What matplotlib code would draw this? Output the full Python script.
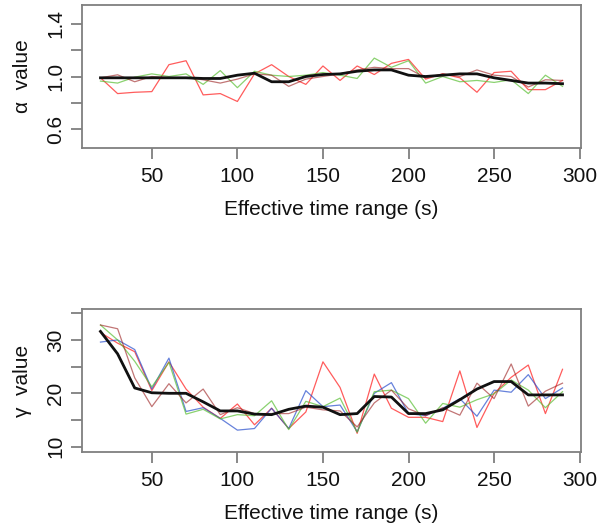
import numpy as np
import matplotlib
matplotlib.use("Agg")
import matplotlib.pyplot as plt

plt.rcParams['font.family'] = ['Liberation Sans', 'DejaVu Sans']

time_range = list(range(20, 300, 10))

# alpha estimates
alpha_red = [0.99, 0.87, 0.88, 0.885, 1.09, 1.12, 0.86, 0.87, 0.81, 1.02, 1.09, 1.00, 0.94, 1.08,
             0.97, 1.08, 1.015, 1.10, 1.13, 0.98, 1.02, 0.99, 0.88, 1.03, 1.04, 0.90, 0.90, 0.97]
alpha_green = [0.965, 0.95, 0.995, 1.02, 1.00, 1.02, 0.94, 1.045, 0.915, 1.04, 1.01, 1.00, 1.01, 1.03,
               1.01, 0.985, 1.14, 1.07, 1.12, 0.95, 1.00, 0.96, 0.97, 0.955, 0.975, 0.87, 1.01, 0.925]
alpha_brown = [0.99, 1.013, 0.96, 1.00, 0.99, 0.99, 0.975, 0.95, 0.98, 1.02, 1.01, 0.925, 0.98, 1.00,
               1.02, 1.05, 1.07, 1.06, 1.06, 0.99, 1.02, 1.00, 1.05, 1.01, 1.00, 0.92, 0.975, 0.97]
alpha_mean = [0.99, 0.99, 0.99, 0.99, 0.99, 0.99, 0.985, 0.985, 1.01, 1.025, 0.96, 0.96, 1.00, 1.015,
              1.02, 1.04, 1.05, 1.05, 1.01, 1.00, 1.01, 1.02, 1.02, 0.99, 0.97, 0.95, 0.95, 0.945]

# gamma estimates
gamma_red = [31.4, 29.4, 27.8, 20.5, 25.9, 20.8, 17.4, 15.3, 18.0, 14.1, 17.2, 13.4, 16.5, 25.9,
             21.1, 12.5, 23.6, 17.2, 15.5, 15.5, 14.7, 24.2, 13.6, 20.0, 23.0, 25.3, 16.2, 24.5]
gamma_blue = [29.6, 30.0, 28.2, 20.8, 26.6, 16.6, 17.3, 15.3, 13.1, 13.4, 17.2, 13.4, 20.5, 17.5,
              17.8, 12.8, 20.0, 22.0, 16.2, 15.8, 17.2, 19.0, 15.7, 20.6, 20.2, 23.5, 19.0, 21.0]
gamma_green = [32.8, 30.0, 26.0, 21.2, 25.8, 16.1, 17.0, 15.2, 16.0, 15.8, 18.6, 13.2, 18.5, 17.5,
               19.1, 12.7, 20.3, 20.6, 19.0, 14.4, 18.1, 17.4, 18.8, 19.9, 22.5, 20.6, 17.3, 20.3]
gamma_brown = [32.8, 32.1, 22.9, 17.5, 21.8, 18.2, 20.8, 16.0, 17.3, 16.2, 16.2, 16.2, 17.4, 16.9,
               16.7, 13.7, 18.2, 20.6, 17.1, 15.8, 17.3, 15.9, 21.9, 19.0, 25.5, 17.6, 20.4, 21.9]
gamma_mean = [31.6, 27.4, 21.0, 20.1, 20.0, 20.0, 18.4, 16.7, 16.7, 16.1, 16.0, 17.0, 17.6, 17.4,
              16.0, 16.2, 19.4, 19.3, 16.2, 16.2, 16.9, 18.8, 20.8, 22.2, 22.2, 19.7, 19.7, 19.7]

x_ticks = [50, 100, 150, 200, 250, 300]
alpha_ticks = [0.6, 0.8, 1.0, 1.2, 1.4]
alpha_labels = ['0.6', '', '1.0', '', '1.4']
gamma_ticks = [10, 15, 20, 25, 30, 35]
gamma_labels = ['10', '', '20', '', '30', '']

RED = (1.0, 0.15, 0.15, 0.75)
GREEN = (0.35, 0.75, 0.2, 0.7)
BROWN = (0.6, 0.1, 0.1, 0.6)
BLUE = (0.15, 0.3, 0.8, 0.7)
AXCOL = '#7f7f7f'
TXT = '#111111'
FS = 15

fig = plt.figure(figsize=(6.04, 5.28), dpi=100)
ax1 = fig.add_axes([82 / 604, 1 - 148 / 528, 499 / 604, 143 / 528])
ax2 = fig.add_axes([82 / 604, 1 - 452 / 528, 499 / 604, 143 / 528])


def style(ax, yticks, ylabels, ylim, ylabel):
    ax.set_xlim(9.2, 300.8)
    ax.set_ylim(*ylim)
    ax.set_xticks(x_ticks)
    ax.set_xticklabels([str(t) for t in x_ticks], fontsize=FS)
    ax.set_yticks(yticks)
    ax.set_yticklabels(ylabels, fontsize=FS, rotation=90, va='center')
    for s in ax.spines.values():
        s.set_color(AXCOL)
        s.set_linewidth(1.3)
    ax.tick_params(colors=AXCOL, labelcolor=TXT, length=8, width=1.3)
    ax.tick_params(axis='x', pad=6)
    ax.tick_params(axis='y', pad=4)
    ax.set_xlabel('Effective time range (s)', fontsize=FS, color=TXT, labelpad=10)
    ax.set_ylabel(ylabel, fontsize=FS, color=TXT, labelpad=10)


for vals, c in [(alpha_red, RED), (alpha_green, GREEN), (alpha_brown, BROWN)]:
    ax1.plot(time_range, vals, color=c, lw=0.9)
ax1.plot(time_range, alpha_mean, color=TXT, lw=2.0)
style(ax1, alpha_ticks, alpha_labels, (0.456, 1.544), 'α  value')

for vals, c in [(gamma_red, RED), (gamma_blue, BLUE), (gamma_green, GREEN), (gamma_brown, BROWN)]:
    ax2.plot(time_range, vals, color=c, lw=0.9)
ax2.plot(time_range, gamma_mean, color=TXT, lw=2.0)
style(ax2, gamma_ticks, gamma_labels, (9.0, 35.8), 'γ  value')

fig.savefig('out.png', dpi=100)
